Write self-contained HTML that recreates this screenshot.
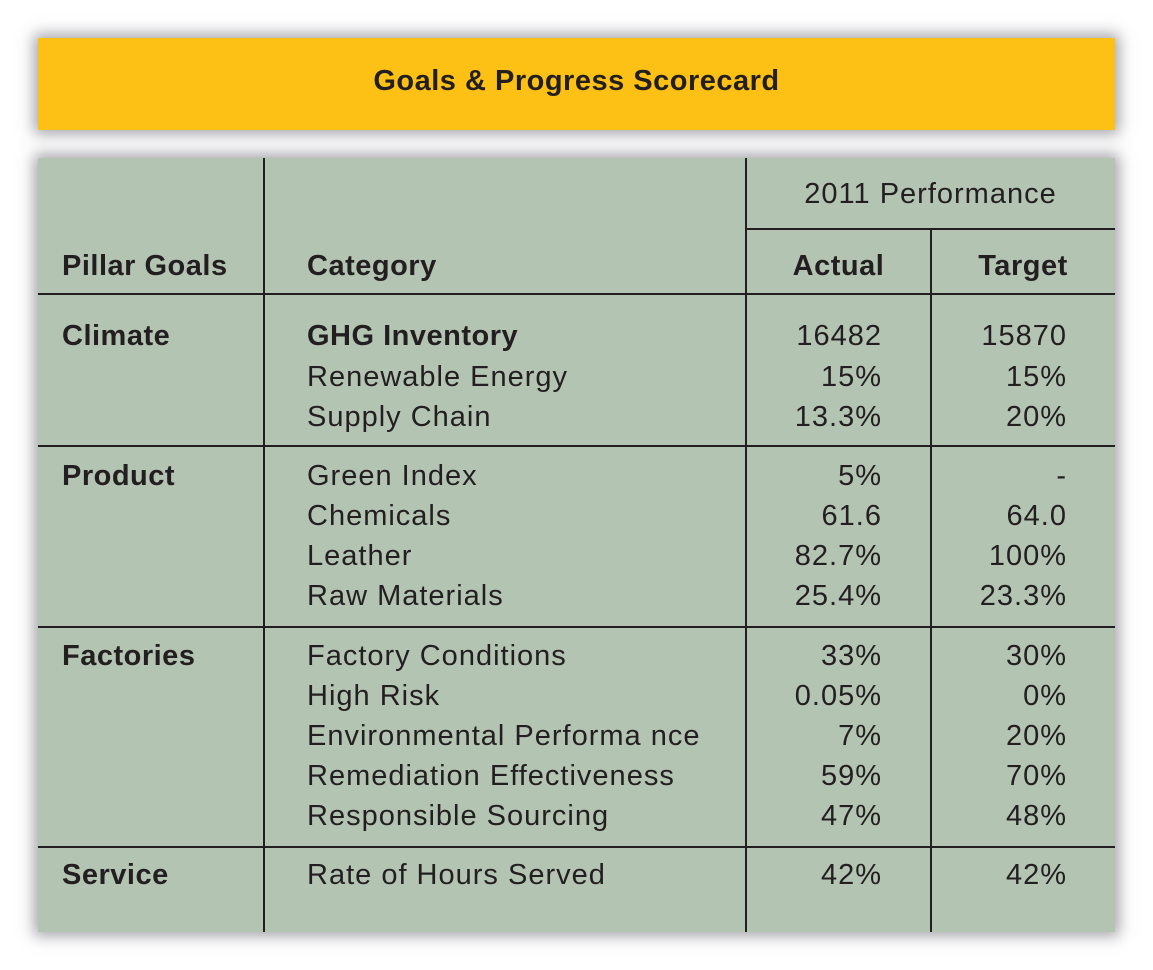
<!DOCTYPE html>
<html><head><meta charset="utf-8"><style>
body{margin:0;width:1153px;height:970px;background:#fff;position:relative;overflow:hidden;font-family:"Liberation Sans","DejaVu Sans",sans-serif;color:#231f20}
.box{position:absolute;box-shadow:0 0 14px 4px rgba(90,90,100,.55)}
.t{position:absolute;font-size:29px;line-height:40px;white-space:nowrap;letter-spacing:1px}
.b{font-weight:bold;letter-spacing:0.5px}
.r{text-align:right}
.l{position:absolute;background:#231f20}
</style></head><body>
<div class="box" style="left:38px;top:38px;width:1077px;height:92px;background:#fdc116"></div>
<div class="t b" style="left:38px;width:1077px;top:61px;text-align:center;letter-spacing:0.5px">Goals &amp; Progress Scorecard</div>
<div class="box" style="left:38px;top:158px;width:1077px;height:774px;background:#b3c4b2"></div>
<div class="l" style="left:263px;top:158px;width:2px;height:774px"></div>
<div class="l" style="left:745px;top:158px;width:2px;height:774px"></div>
<div class="l" style="left:930px;top:229px;width:2px;height:703px"></div>
<div class="l" style="left:746px;top:228px;width:369px;height:2px"></div>
<div class="l" style="left:38px;top:293px;width:1077px;height:2px"></div>
<div class="l" style="left:38px;top:445px;width:1077px;height:2px"></div>
<div class="l" style="left:38px;top:626px;width:1077px;height:2px"></div>
<div class="l" style="left:38px;top:846px;width:1077px;height:2px"></div>
<div class="t" style="left:746px;width:369px;top:174px;text-align:center">2011 Performance</div>
<div class="t b" style="left:62px;top:246px">Pillar Goals</div>
<div class="t b" style="left:307px;top:246px">Category</div>
<div class="t b" style="left:746px;width:185px;top:246px;text-align:center">Actual</div>
<div class="t b" style="left:931px;width:184px;top:246px;text-align:center">Target</div>
<div id="rows"></div>
<script>
const rows=[
["Climate","GHG Inventory","16482","15870",336,1],
["","Renewable Energy","15%","15%",377],
["","Supply Chain","13.3%","20%",417],
["Product","Green Index","5%","-",476],
["","Chemicals","61.6","64.0",516],
["","Leather","82.7%","100%",556],
["","Raw Materials","25.4%","23.3%",596],
["Factories","Factory Conditions","33%","30%",656],
["","High Risk","0.05%","0%",696],
["","Environmental Performa nce","7%","20%",736],
["","Remediation Effectiveness","59%","70%",776],
["","Responsible Sourcing","47%","48%",816],
["Service","Rate of Hours Served","42%","42%",875]];
const c=document.getElementById('rows');
rows.forEach(r=>{
 const y=r[4]-20;
 const mk=(txt,css,cls,name)=>{const d=document.createElement('div');d.className='t '+cls;d.style.cssText=css+';top:'+y+'px';d.textContent=txt;
 
 
 c.appendChild(d);};
 if(r[0])mk(r[0],'left:62px','b','pillar-label');
 mk(r[1],'left:307px',r[5]?'b':'','category-label');
 mk(r[2],'left:700px;width:182px','r','actual-value');
 mk(r[3],'left:900px;width:167px','r','target-value');
});
</script>
</body></html>
